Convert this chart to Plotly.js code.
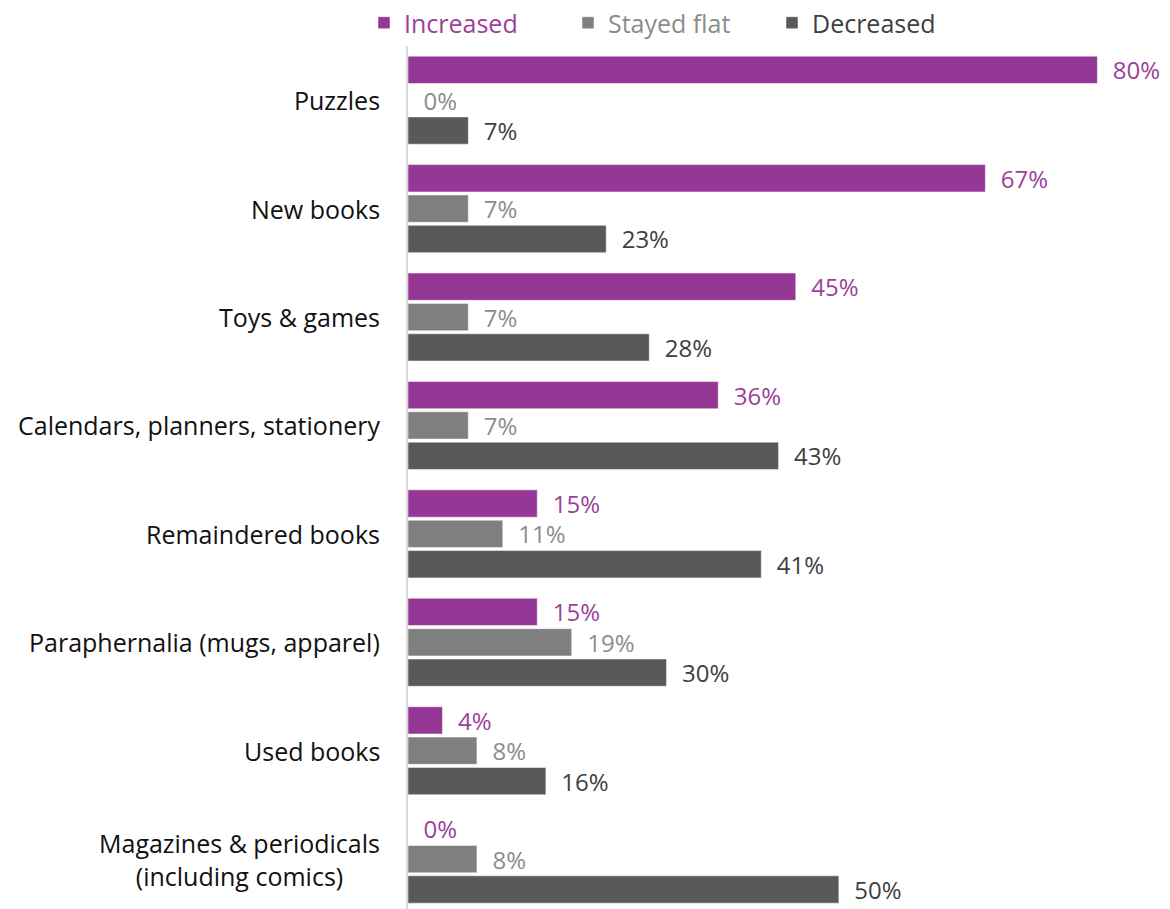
<!DOCTYPE html>
<html>
<head>
<meta charset="utf-8">
<script src="https://cdn.plot.ly/plotly-3.0.1.min.js"></script>
<style>html,body{margin:0;padding:0;background:#fff;}#chart{width:1170px;height:909px;}</style>
</head>
<body>
<div id="chart"></div>
<script>
const categories = ["Puzzles", "New books", "Toys & games", "Calendars, planners, stationery", "Remaindered books", "Paraphernalia (mugs, apparel)", "Used books", "Magazines & periodicals<br>(including comics)"];
const seriesNames = ["Increased", "Stayed flat", "Decreased"];
const increased = [80, 67, 45, 36, 15, 15, 4, 0];
const stayedFlat = [0, 7, 7, 7, 11, 19, 8, 8];
const decreased = [7, 23, 28, 43, 41, 30, 16, 50];
const barColors = ["#953795", "#7f7f7f", "#595959"];
const labelColors = ["#9b3f9b", "#8c8c8c", "#404040"];

const FONT = "'Open Sans', sans-serif";
const allSeries = [increased, stayedFlat, decreased];
const traces = allSeries.map((vals, i) => ({
  type: "bar",
  orientation: "h",
  name: '<span style="color:' + labelColors[i] + '">' + seriesNames[i] + '</span>',
  y: categories,
  x: vals,
  texttemplate: "\u00a0\u00a0%{x}%",
  textposition: "outside",
  constraintext: "none",
  textfont: {family: FONT, size: 24, color: labelColors[i]},
  cliponaxis: false,
  marker: {color: barColors[i], line: {color: "rgba(255,255,255,0.5)", width: 1}},
  hoverinfo: "skip"
}));

const annotations = categories.map(c => ({
  xref: "paper", yref: "y", x: 0, y: c,
  xanchor: "right", yanchor: "middle", xshift: -26,
  text: c, showarrow: false, align: "center",
  font: {family: FONT, size: 25, color: "#111111"}
}));

const layout = {
  width: 1170, height: 909,
  margin: {l: 408, r: 64, t: 46, b: 0},
  paper_bgcolor: "#fff", plot_bgcolor: "#fff",
  barmode: "group",
  bargap: 0.16,
  bargroupgap: 0.1,
  font: {family: FONT, size: 24, color: "#111111"},
  showlegend: true,
  legend: {
    orientation: "h", x: 364 / 1170, xref: "container", xanchor: "left",
    yref: "container", y: 1.0, yanchor: "top",
    font: {family: FONT, size: 25},
    itemwidth: 30, traceorder: "normal",
    entrywidth: 159, entrywidthmode: "pixels",
    bgcolor: "rgba(0,0,0,0)"
  },
  xaxis: {range: [0, 81], visible: false, fixedrange: true},
  yaxis: {
    type: "category", range: [7.46, -0.5], autorange: false,
    showticklabels: false, ticks: "",
    showline: true, linecolor: "#d9d9d9", linewidth: 2,
    showgrid: false, zeroline: false
  },
  annotations: annotations
};

Plotly.newPlot("chart", traces, layout, {displayModeBar: false, staticPlot: true});
</script>
</body>
</html>
